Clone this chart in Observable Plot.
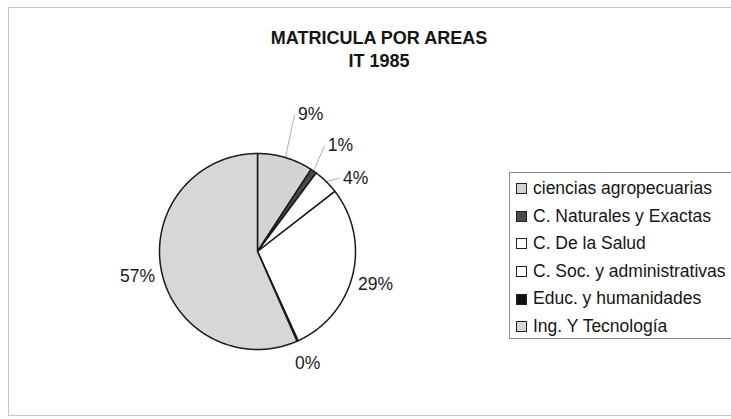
<!DOCTYPE html>
<html>
<head>
<meta charset="utf-8">
<script src="https://cdn.jsdelivr.net/npm/d3@7"></script>
<script src="https://cdn.jsdelivr.net/npm/@observablehq/plot@0.6"></script>
<style>
  html, body { margin: 0; padding: 0; background: #fff; }
  #wrap { position: relative; width: 731px; height: 419px; overflow: hidden; font-family: "Liberation Sans", Arial, sans-serif; color: #151515; }
  #frame { position: absolute; left: 8px; top: 7px; width: 740px; height: 407px; border-left: 1px solid #c6c6c6; border-top: 1px solid #c6c6c6; border-bottom: 1px solid #c6c6c6; }
  #title { position: absolute; left: 0; top: 27px; width: 758px; text-align: center; font-weight: bold; font-size: 18px; line-height: 23px; }
  #chart { position: absolute; left: 0; top: 80px; }
  #chart svg { overflow: visible; }
  #legend { position: absolute; left: 509px; top: 172px; width: 240px; height: 167px; border: 1px solid #8a8a8a; padding-top: 2px; box-sizing: border-box; font-size: 17.5px; }
  .row { height: 27.6px; line-height: 27.6px; white-space: nowrap; display: flex; align-items: center; }
  .sw { width: 9px; height: 9px; border: 1px solid #222; margin-left: 6px; margin-right: 6px; flex: none; }
</style>
</head>
<body>
<div id="wrap">
  <div id="frame"></div>
  <div id="title"></div>
  <div id="chart"></div>
  <div id="legend"></div>
</div>
<script>
// ---- data ----
const titleLines = ["MATRICULA POR AREAS", "IT 1985"];
const categories = ["ciencias agropecuarias", "C. Naturales y Exactas", "C. De la Salud", "C. Soc. y administrativas", "Educ. y humanidades", "Ing. Y Tecnología"];
const values = [9.2, 1.0, 4.3, 28.7, 0.2, 56.6];
const colors = ["#d3d3d3", "#4a4a4a", "#ffffff", "#ffffff", "#111111", "#d7d7d7"];

// ---- layout (not data) ----
const cx = 257, cy = 171, r = 98;
const labelRadius = [1.5, 1.37, 1.25, 1.25, 1.25, 1.25];
const labelShiftDeg = [4.6, 3.2, 8.8, 1.5, 0, 0];
const hasLeader = [true, true, true, false, false, false];

// title
document.getElementById("title").innerHTML = titleLines.map(t => `<div>${t}</div>`).join("");

// slices
const total = d3.sum(values);
const arcs = d3.pie().sort(null).value(d => d)(values);
const slicePts = [];
arcs.forEach((p, i) => {
  const cat = categories[i];
  const n = Math.max(2, Math.ceil((p.endAngle - p.startAngle) / (Math.PI / 360)));
  slicePts.push({cat, x: 0, y: 0});
  for (let k = 0; k <= n; k++) {
    const t = p.startAngle + (p.endAngle - p.startAngle) * k / n;
    slicePts.push({cat, x: Math.sin(t), y: Math.cos(t)});
  }
  slicePts.push({cat, x: 0, y: 0});
});

const labels = arcs.map((p, i) => {
  const mid = (p.startAngle + p.endAngle) / 2;
  const a = mid + labelShiftDeg[i] * Math.PI / 180;
  const lx = labelRadius[i] * Math.sin(a), ly = labelRadius[i] * Math.cos(a);
  return {
    x: lx, y: ly,
    text: Math.round(p.value / total * 100) + "%",
    leader: hasLeader[i],
    ex: Math.sin(mid), ey: Math.cos(mid),
    lx2: lx - 16 / r, ly2: ly
  };
});

const plot = Plot.plot({
  width: 731,
  height: 339,
  margin: 0,
  x: {domain: [-1, 1], range: [cx - r, cx + r], axis: null},
  y: {domain: [-1, 1], range: [cy + r, cy - r], axis: null},
  color: {domain: categories, range: colors},
  style: {background: "transparent", fontFamily: "'Liberation Sans', Arial, sans-serif"},
  marks: [
    Plot.link(labels.filter(d => d.leader), {x1: "ex", y1: "ey", x2: "lx2", y2: "ly2", stroke: "#b0b0b0", strokeWidth: 1}),
    Plot.line(slicePts, {x: "x", y: "y", z: "cat", fill: "cat", stroke: "#1a1a1a", strokeWidth: 1.5, strokeLinejoin: "round", curve: "linear"}),
    Plot.text(labels, {x: "x", y: "y", text: "text", fontSize: 17.5, fill: "#1a1a1a", textAnchor: "middle"})
  ]
});
document.getElementById("chart").appendChild(plot);

// legend
const legend = document.getElementById("legend");
categories.forEach((c, i) => {
  const row = document.createElement("div");
  row.className = "row";
  row.innerHTML = `<span class="sw" style="background:${colors[i]}"></span><span>${c}</span>`;
  legend.appendChild(row);
});
</script>
</body>
</html>
